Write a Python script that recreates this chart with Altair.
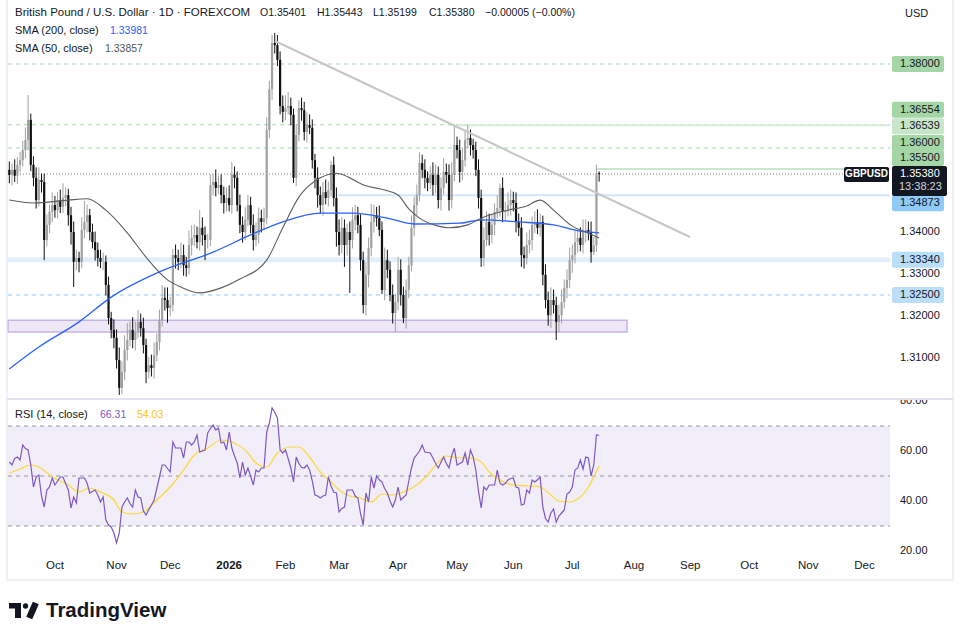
import altair as alt
import pandas as pd

# ---------------- data ----------------
# daily closes, GBP/USD (FOREXCOM), one value per trading day from 2025-09-08
closes = [
    1.3536, 1.3548, 1.3534, 1.3560, 1.3571, 1.3595, 1.3619, 1.3667, 1.3560, 1.3529,
    1.3476, 1.3524, 1.3519, 1.3381, 1.3417, 1.3448, 1.3464, 1.3452, 1.3476, 1.3460,
    1.3481, 1.3488, 1.3440, 1.3400, 1.3329, 1.3338, 1.3329, 1.3405, 1.3424, 1.3440,
    1.3400, 1.3376, 1.3357, 1.3338, 1.3329, 1.3329, 1.3274, 1.3195, 1.3167, 1.3148,
    1.3095, 1.3029, 1.3067, 1.3119, 1.3143, 1.3167, 1.3143, 1.3162, 1.3186, 1.3171,
    1.3131, 1.3067, 1.3083, 1.3076, 1.3107, 1.3138, 1.3190, 1.3243, 1.3238, 1.3219,
    1.3226, 1.3345, 1.3338, 1.3329, 1.3345, 1.3321, 1.3314, 1.3369, 1.3386, 1.3393,
    1.3376, 1.3410, 1.3393, 1.3381, 1.3381, 1.3512, 1.3519, 1.3505, 1.3512, 1.3488,
    1.3469, 1.3481, 1.3464, 1.3536, 1.3529, 1.3464, 1.3417, 1.3400, 1.3429, 1.3464,
    1.3417, 1.3381, 1.3393, 1.3433, 1.3424, 1.3433, 1.3643, 1.3740, 1.3850, 1.3845,
    1.3810, 1.3700, 1.3686, 1.3695, 1.3700, 1.3679, 1.3529, 1.3631, 1.3695, 1.3690,
    1.3638, 1.3655, 1.3648, 1.3571, 1.3529, 1.3488, 1.3464, 1.3495, 1.3481, 1.3500,
    1.3560, 1.3481, 1.3400, 1.3369, 1.3410, 1.3369, 1.3400, 1.3381, 1.3429, 1.3440,
    1.3417, 1.3333, 1.3226, 1.3298, 1.3362, 1.3424, 1.3440, 1.3433, 1.3405, 1.3262,
    1.3333, 1.3310, 1.3250, 1.3207, 1.3233, 1.3310, 1.3250, 1.3195, 1.3262, 1.3321,
    1.3410, 1.3464, 1.3488, 1.3564, 1.3548, 1.3529, 1.3517, 1.3536, 1.3512, 1.3536,
    1.3476, 1.3505, 1.3543, 1.3536, 1.3476, 1.3536, 1.3607, 1.3595, 1.3543, 1.3571,
    1.3619, 1.3624, 1.3607, 1.3595, 1.3548, 1.3481, 1.3338, 1.3381, 1.3424, 1.3393,
    1.3417, 1.3448, 1.3457, 1.3505, 1.3448, 1.3452, 1.3464, 1.3476, 1.3469, 1.3424,
    1.3410, 1.3345, 1.3338, 1.3369, 1.3381, 1.3417, 1.3424, 1.3410, 1.3424, 1.3298,
    1.3238, 1.3202, 1.3238, 1.3226, 1.3186, 1.3202, 1.3233, 1.3267, 1.3286, 1.3333,
    1.3345, 1.3376, 1.3386, 1.3369, 1.3400, 1.3405, 1.3400, 1.3352, 1.3368, 1.35401,
    1.35380,
]
first_open = 1.3548

# wick lengths above / below the candle body, in pips
upper_wick = [
    20, 15, 25, 18, 20, 22, 30, 59, 15, 20,
    25, 30, 15, 20, 25, 18, 30, 22, 20, 25,
    35, 18, 15, 20, 25, 20, 15, 30, 50, 25,
    15, 20, 25, 18, 20, 22, 15, 20, 15, 25,
    20, 30, 25, 35, 40, 20, 30, 25, 28, 20,
    25, 15, 20, 25, 30, 20, 25, 30, 25, 30,
    20, 15, 25, 20, 30, 25, 20, 35, 30, 25,
    20, 42, 25, 20, 15, 25, 20, 30, 22, 25,
    20, 25, 30, 31, 20, 15, 25, 20, 30, 25,
    20, 25, 30, 25, 20, 25, 30, 20, 19, 24,
    24, 20, 25, 30, 33, 20, 15, 25, 19, 25,
    20, 30, 25, 20, 15, 25, 20, 25, 30, 20,
    10, 20, 25, 30, 25, 20, 20, 25, 30, 25,
    20, 25, 20, 30, 25, 43, 25, 20, 30, 20,
    30, 25, 20, 25, 20, 30, 25, 20, 25, 20,
    30, 20, 25, 26, 20, 25, 15, 20, 30, 25,
    20, 25, 33, 20, 25, 30, 48, 20, 25, 30,
    25, 31, 20, 15, 20, 25, 20, 30, 25, 20,
    25, 20, 30, 10, 25, 20, 30, 25, 20, 25,
    20, 25, 20, 30, 25, 20, 25, 30, 20, 15,
    25, 20, 30, 25, 20, 25, 30, 20, 25, 30,
    25, 30, 20, 25, 30, 25, 20, 25, 20, 20,
    4,
]
lower_wick = [
    20, 25, 15, 20, 18, 15, 20, 25, 15, 20,
    20, 15, 25, 48, 15, 20, 25, 18, 20, 15,
    15, 20, 25, 30, 60, 20, 25, 15, 20, 25,
    20, 15, 25, 20, 15, 20, 25, 15, 20, 25,
    20, 17, 15, 20, 25, 15, 20, 25, 15, 20,
    20, 27, 15, 20, 25, 15, 20, 15, 25, 35,
    20, 15, 25, 20, 15, 25, 20, 15, 25, 20,
    15, 20, 25, 48, 20, 15, 25, 20, 15, 20,
    25, 20, 15, 20, 25, 15, 20, 25, 20, 15,
    20, 25, 15, 20, 25, 20, 15, 20, 25, 20,
    15, 20, 25, 20, 15, 25, 12, 20, 15, 25,
    20, 25, 15, 20, 25, 30, 20, 25, 15, 20,
    15, 20, 35, 25, 20, 52, 25, 126, 20, 25,
    20, 25, 20, 25, 30, 20, 25, 20, 15, 10,
    25, 20, 15, 25, 45, 20, 25, 12, 25, 20,
    15, 20, 25, 15, 20, 25, 20, 15, 25, 20,
    20, 25, 15, 20, 25, 20, 15, 20, 25, 20,
    15, 20, 25, 20, 15, 25, 21, 20, 15, 25,
    20, 25, 15, 20, 25, 20, 15, 25, 20, 25,
    20, 28, 25, 15, 20, 25, 20, 15, 20, 25,
    20, 25, 30, 20, 43, 25, 20, 15, 25, 20,
    30, 20, 25, 15, 20, 25, 20, 25, 7, 15,
    18,
]

# RSI(14) per bar
rsi = [
    55.6, 54.4, 57.0, 57.6, 56.4, 62.4, 61.0, 60.4, 54.4, 45.6,
    49.6, 50.4, 42.0, 37.6, 44.4, 45.6, 49.2, 46.4, 48.0, 49.6,
    49.6, 47.0, 44.4, 37.2, 41.6, 39.2, 49.2, 49.2, 49.2, 47.2,
    43.2, 43.8, 44.4, 42.4, 39.6, 41.6, 32.4, 30.4, 29.6, 27.2,
    23.2, 27.2, 37.6, 39.6, 41.2, 39.0, 37.6, 44.4, 41.6, 41.2,
    36.0, 34.4, 36.5, 38.4, 40.4, 45.0, 49.6, 54.4, 54.4, 53.0,
    51.6, 63.6, 61.2, 61.2, 61.2, 57.2, 63.6, 63.6, 62.4, 63.6,
    66.4, 59.6, 60.0, 60.4, 67.2, 69.0, 70.4, 68.4, 69.2, 63.2,
    63.6, 60.4, 67.6, 61.2, 58.0, 55.2, 49.2, 55.6, 50.4, 53.2,
    50.0, 46.4, 52.4, 51.6, 53.2, 53.2, 67.6, 71.2, 77.2, 75.5,
    73.2, 60.4, 59.2, 60.4, 57.0, 53.2, 47.6, 57.6, 55.0, 53.5,
    53.2, 54.4, 52.4, 48.0, 42.4, 42.0, 41.2, 42.0, 42.4, 49.6,
    46.0, 43.6, 43.2, 35.6, 37.0, 37.6, 44.4, 44.4, 44.4, 42.0,
    41.2, 35.0, 30.4, 43.2, 39.6, 49.6, 45.2, 50.0, 48.5, 47.6,
    45.0, 43.2, 40.0, 37.6, 40.4, 45.6, 40.4, 41.5, 42.4, 48.0,
    53.2, 57.2, 58.5, 60.0, 62.4, 59.6, 59.4, 59.2, 57.2, 55.0,
    53.2, 55.5, 57.6, 55.0, 53.2, 58.0, 61.2, 54.4, 55.0, 55.6,
    59.2, 54.4, 60.4, 57.6, 52.4, 44.0, 37.2, 45.6, 44.4, 46.4,
    46.4, 46.4, 52.4, 47.2, 46.4, 47.0, 48.4, 49.0, 49.2, 45.6,
    45.2, 38.4, 38.8, 44.4, 43.2, 48.4, 47.6, 48.5, 49.6, 37.6,
    33.0, 31.6, 35.2, 36.8, 31.6, 34.0, 35.2, 36.4, 42.8, 43.6,
    45.6, 52.4, 53.2, 56.4, 52.8, 57.6, 57.2, 50.0, 54.4, 66.4,
    66.31,
]

# RSI-based moving average (bar index, value)
rsi_ma_idx = [0, 4, 8, 11, 16, 22, 26, 30, 34, 39, 42, 46, 50, 55, 60, 65, 69, 74, 79, 83,
              89, 92, 96, 100, 105, 108, 112, 116, 120, 123, 127, 131, 135, 139, 143, 147, 152, 156, 160, 163,
              168, 172, 176, 179, 183, 188, 194, 198, 202, 205, 209, 212, 216, 218, 220]
rsi_ma_val = [51.2, 52.8, 54.4, 53.6, 49.6, 46.4, 43.6, 45.2, 43.6, 40.4, 35.6, 34.8, 35.6, 40.4, 45.6, 52.4, 58.4, 61.2, 64.4, 63.6,
              59.2, 55.2, 53.6, 59.2, 61.6, 61.6, 57.6, 51.6, 47.6, 44.4, 42.0, 41.2, 39.6, 42.8, 42.4, 43.6, 46.4, 50.4, 55.6, 58.0,
              57.2, 57.2, 55.6, 51.6, 48.4, 46.4, 46.0, 45.6, 42.4, 40.0, 39.6, 40.8, 45.6, 49.6, 54.03]

# simple moving averages (bar index, value)
sma200_idx = [0, 11, 26, 38, 56, 76, 90, 102, 116, 128, 141, 151, 168, 176, 190, 203, 213, 220]
sma200_val = [1.3074, 1.3126, 1.3186, 1.3245, 1.3305, 1.3352, 1.3393, 1.3424, 1.3445, 1.3445,
              1.3433, 1.3419, 1.3421, 1.3429, 1.3424, 1.3417, 1.3402, 1.33981]
sma50_idx = [0, 9, 22, 29, 36, 44, 51, 59, 64, 71, 79, 86, 96, 102, 108, 116, 122, 133, 140, 145,
             149, 153, 160, 164, 171, 176, 186, 193, 198, 203, 210, 215, 220]
sma50_val = [1.3476, 1.3469, 1.3476, 1.3479, 1.3452, 1.3398, 1.3340, 1.3286, 1.3269, 1.3255,
             1.3267, 1.3288, 1.3333, 1.3410, 1.3483, 1.3529, 1.3540, 1.3510, 1.3500, 1.3488,
             1.3455, 1.3433, 1.3414, 1.3410, 1.3417, 1.3433, 1.3452, 1.3462, 1.3476, 1.3452,
             1.3414, 1.3400, 1.33857]

# horizontal levels
level_dashed_green = [1.38000, 1.36554, 1.36000]
level_dashed_blue = [1.32500]
support_band = [1.3334]
zone_low, zone_high = 1.3162, 1.3190
zone_end_idx = 230.4
level_may_high = 1.36539      # drawn from the May high onwards
level_may_high_start = 167.0
level_break = 1.34873
level_break_start = 122.0
level_target = 1.35500
level_target_start = 219.0
last_close = 1.35380
trend_start = (99.1, 1.38548)
trend_end = (253.9, 1.33881)

holidays = ["2025-12-25", "2026-01-01"]
axis_ticks = [1.31, 1.32, 1.33, 1.34]
rsi_ticks = [80, 60, 40, 20]

# ---------------- frames ----------------
n = len(closes)
assert len(upper_wick) == n and len(lower_wick) == n and len(rsi) == n, (len(upper_wick), len(lower_wick), len(rsi), n)

days = pd.bdate_range("2025-09-08", "2026-12-31", freq="C", holidays=holidays)
opens = [first_open] + closes[:-1]
candles = pd.DataFrame({
    "idx": range(n),
    "date": [d.strftime("%Y-%m-%d") for d in days[:n]],
    "open": opens,
    "close": closes,
})
candles["high"] = [max(o, c) + w / 10000 for o, c, w in zip(opens, closes, upper_wick)]
candles["low"] = [min(o, c) - w / 10000 for o, c, w in zip(opens, closes, lower_wick)]
candles["dir"] = ["up" if c >= o else "down" for o, c in zip(opens, closes)]

rsi_df = pd.DataFrame({"idx": range(n), "rsi": rsi})
rsi_ma_df = pd.DataFrame({"idx": rsi_ma_idx, "v": rsi_ma_val})
sma200_df = pd.DataFrame({"idx": sma200_idx, "v": sma200_val})
sma50_df = pd.DataFrame({"idx": sma50_idx, "v": sma50_val})

# month ticks (first trading day of each month)
month_rows = []
seen = set()
for i, d in enumerate(days):
    key = (d.year, d.month)
    if key in seen:
        continue
    seen.add(key)
    if d >= pd.Timestamp("2025-10-01"):
        month_rows.append({"idx": i, "label": d.strftime("%Y") if d.month == 1 else d.strftime("%b"),
                           "year": d.month == 1})
months = pd.DataFrame(month_rows)

# ---------------- scales ----------------
FONT = "Liberation Sans"
INK = "#131722"
LEFT_IDX, RIGHT_IDX = -0.5, 328.5
X = alt.Scale(domain=[LEFT_IDX, RIGHT_IDX], range=[8, 890], nice=False, zero=False, padding=0)
PY = alt.Scale(domain=[1.300476, 1.395238], range=[398, 0], nice=False, zero=False)
RY = alt.Scale(domain=[20, 80], range=[551, 401], nice=False, zero=False)


def xq(field):
    return alt.X(field, type="quantitative", scale=X, axis=None)


def py(field):
    return alt.Y(field, type="quantitative", scale=PY, axis=None)


def ry(field):
    return alt.Y(field, type="quantitative", scale=RY, axis=None)


def hline(values, color, width=1, dash=None, start=LEFT_IDX, end=RIGHT_IDX, scale_fn=py):
    d = pd.DataFrame({"v": values, "a": start, "b": end})
    kw = dict(color=color, strokeWidth=width)
    if dash:
        kw["strokeDash"] = dash
    return alt.Chart(d).mark_rule(**kw).encode(x=xq("a"), x2="b:Q", y=scale_fn("v"))


def text(s, x, y, color=INK, size=11.5, weight="normal", align="left"):
    return alt.Chart(pd.DataFrame({"t": [s]})).mark_text(
        align=align, baseline="middle", font=FONT, fontSize=size, fontWeight=weight, color=color
    ).encode(x=alt.value(x), y=alt.value(y), text="t:N")


def price_tag(value, label, fill, ink=INK, shift=0):
    d = pd.DataFrame({"v": [value], "t": [label]})
    box = alt.Chart(d).mark_rect(fill=fill, yOffset=shift - 8, y2Offset=shift + 8, cornerRadius=2).encode(
        x=alt.value(892), x2=alt.value(944), y=py("v"), y2="v:Q")
    lab = alt.Chart(d).mark_text(align="left", baseline="middle", font=FONT, fontSize=11, color=ink, dy=shift).encode(
        x=alt.value(900), y=py("v"), text="t:N")
    return [box, lab]


def pixel_rect(x1, x2, y1, y2, color):
    return alt.Chart(pd.DataFrame({"a": [0]})).mark_rect(fill=color).encode(
        x=alt.value(x1), x2=alt.value(x2), y=alt.value(y1), y2=alt.value(y2))


def pixel_rule(x1, x2, y1, y2, color, width=1):
    return alt.Chart(pd.DataFrame({"a": [0]})).mark_rule(color=color, strokeWidth=width).encode(
        x=alt.value(x1), x2=alt.value(x2), y=alt.value(y1), y2=alt.value(y2))


# ---------------- price pane ----------------
zone = alt.Chart(pd.DataFrame({"a": [LEFT_IDX], "b": [zone_end_idx], "lo": [zone_low], "hi": [zone_high]})).mark_rect(
    fill="#ede7f6", stroke="#c5b3e6", strokeWidth=1.5).encode(x=xq("a"), x2="b:Q", y=py("lo"), y2="hi:Q")

trend = alt.Chart(pd.DataFrame({"idx": [trend_start[0], trend_end[0]], "v": [trend_start[1], trend_end[1]]})).mark_line(
    color="#c6c6c6", strokeWidth=2).encode(x=xq("idx"), y=py("v"))

sma200 = alt.Chart(sma200_df).mark_line(color="#2962ff", strokeWidth=1.3, interpolate="monotone").encode(x=xq("idx"), y=py("v"))
sma50 = alt.Chart(sma50_df).mark_line(color="#5d5d5d", strokeWidth=1.1, interpolate="monotone").encode(x=xq("idx"), y=py("v"))

candle_color = alt.Color("dir:N", scale=alt.Scale(domain=["up", "down"], range=["#a0a0a0", "#101010"]), legend=None)
wicks = alt.Chart(candles).mark_rule(strokeWidth=1).encode(x=xq("idx"), y=py("low"), y2="high:Q", color=candle_color)
bodies = alt.Chart(candles).mark_bar(size=2.2).encode(x=xq("idx"), y=py("open"), y2="close:Q", color=candle_color)

price_layers = [
    zone,
    hline(level_dashed_green, "#a5d6a7", 1, [4, 4]),
    hline(level_dashed_blue, "#90caf9", 1, [4, 4]),
    hline(support_band, "#e3eefb", 5),
    hline([level_may_high], "#d6eed7", 2, start=level_may_high_start),
    hline([level_break], "#d3e5fb", 2, start=level_break_start),
    hline([level_target], "#c8e6c9", 2, start=level_target_start),
    hline([last_close], "#787b86", 1, [1, 2]),
    wicks,
    bodies,
    sma200,
    sma50,
    trend,
]

# price scale labels
price_layers.append(
    alt.Chart(pd.DataFrame({"v": axis_ticks, "t": [f"{v:.5f}" for v in axis_ticks]})).mark_text(
        align="left", baseline="middle", font=FONT, fontSize=11, color=INK).encode(x=alt.value(900), y=py("v"), text="t:N")
)
price_layers += price_tag(1.38000, "1.38000", "#a5d6a7")
price_layers += price_tag(1.36554, "1.36554", "#a5d6a7", shift=-15)
price_layers += price_tag(1.36539, "1.36539", "#c8e6c9", shift=1)
price_layers += price_tag(1.36000, "1.36000", "#a5d6a7", shift=-5)
price_layers += price_tag(1.35500, "1.35500", "#a5d6a7", shift=-11)
price_layers += price_tag(level_break, "1.34873", "#90caf9", shift=8)
price_layers += price_tag(1.33340, "1.33340", "#bbdefb")
price_layers += price_tag(1.32500, "1.32500", "#bbdefb")

last_df = pd.DataFrame({"v": [last_close]})
price_layers += [
    alt.Chart(last_df).mark_rect(fill="#131722", yOffset=-8, y2Offset=22, cornerRadius=2).encode(
        x=alt.value(892), x2=alt.value(947), y=py("v"), y2="v:Q"),
    alt.Chart(last_df).mark_rect(fill="#131722", yOffset=-7, y2Offset=8, cornerRadius=2).encode(
        x=alt.value(844), x2=alt.value(889), y=py("v"), y2="v:Q"),
    alt.Chart(last_df.assign(t="1.35380")).mark_text(align="left", baseline="middle", font=FONT, fontSize=11,
                                                     color="white").encode(x=alt.value(900), y=py("v"), text="t:N"),
    alt.Chart(last_df.assign(t="13:38:23")).mark_text(align="left", baseline="middle", font=FONT, fontSize=11,
                                                      color="#d1d4dc", dy=13).encode(x=alt.value(899), y=py("v"), text="t:N"),
    alt.Chart(last_df.assign(t="GBPUSD")).mark_text(align="center", baseline="middle", font=FONT, fontSize=10,
                                                    fontWeight="bold", color="white").encode(x=alt.value(866.5), y=py("v"), text="t:N"),
]

# ---------------- RSI pane ----------------
band = alt.Chart(pd.DataFrame({"a": [LEFT_IDX], "b": [RIGHT_IDX], "lo": [30], "hi": [70]})).mark_rect(
    fill="#7e57c2", opacity=0.1).encode(x=xq("a"), x2="b:Q", y=ry("lo"), y2="hi:Q")
rsi_line = alt.Chart(rsi_df).mark_line(color="#7e57c2", strokeWidth=1.2).encode(x=xq("idx"), y=ry("rsi"))
rsi_ma = alt.Chart(rsi_ma_df).mark_line(color="#fdd835", strokeWidth=1.2, interpolate="monotone").encode(x=xq("idx"), y=ry("v"))
rsi_labels = alt.Chart(pd.DataFrame({"v": rsi_ticks, "t": [f"{v:.2f}" for v in rsi_ticks]})).mark_text(
    align="left", baseline="middle", font=FONT, fontSize=11, color=INK).encode(x=alt.value(900), y=ry("v"), text="t:N")

rsi_layers = [
    band,
    hline([70, 50, 30], "#9598a1", 1, [4, 4], scale_fn=ry),
    rsi_ma,
    rsi_line,
    rsi_labels,
]

# ---------------- frame, headers, time axis ----------------
month_plain = alt.Chart(months[~months["year"]]).mark_text(
    baseline="middle", font=FONT, fontSize=11.5, color=INK).encode(x=xq("idx"), y=alt.value(566), text="label:N")
month_year = alt.Chart(months[months["year"]]).mark_text(
    baseline="middle", font=FONT, fontSize=11.5, fontWeight="bold", color=INK).encode(x=xq("idx"), y=alt.value(566), text="label:N")

frame = [
    # half-hidden RSI scale labels at the pane edges
    pixel_rect(891, 952, 388, 399, "white"),
    pixel_rect(891, 952, 554, 560, "white"),
    pixel_rule(7, 953, 399, 399, "#e0e3eb", 2),
    pixel_rule(7, 7, 0, 580, "#e0e3eb"),
    pixel_rule(953, 953, 0, 580, "#e0e3eb"),
    pixel_rule(7, 953, 580, 580, "#e0e3eb"),
]

# TradingView mark
logo = [
    pixel_rect(9, 21, 603, 608.5, "#131722"),
    pixel_rect(15, 21, 603, 618, "#131722"),
    alt.Chart(pd.DataFrame({"a": [0]})).mark_point(filled=True, shape="circle", size=28, color="#131722", opacity=1).encode(
        x=alt.value(25.5), y=alt.value(606)),
    alt.Chart(pd.DataFrame({"px": [35.8, 29.2], "py": [603, 618]})).mark_line(
        color="#131722", strokeWidth=6.5, strokeCap="butt").encode(
        x=alt.X("px:Q", scale=None, axis=None), y=alt.Y("py:Q", scale=None, axis=None)),
]

headers = [
    text("British Pound / U.S. Dollar · 1D · FOREXCOM", 15, 13),
    text("O1.35401", 260, 13, size=10.5),
    text("H1.35443", 317, 13, size=10.5),
    text("L1.35199", 373, 13, size=10.5),
    text("C1.35380", 429, 13, size=10.5),
    text("−0.00005 (−0.00%)", 485, 13, size=10.5),
    text("SMA (200, close)", 15, 31, size=11),
    text("1.33981", 110, 31, color="#2962ff", size=10.5),
    text("SMA (50, close)", 15, 49, size=11),
    text("1.33857", 105, 49, color="#555555", size=10.5),
    text("RSI (14, close)", 15, 415, size=11),
    text("66.31", 100, 415, color="#7e57c2", size=10.5),
    text("54.03", 137, 415, color="#f5c518", size=10.5),
    text("USD", 905, 14, size=11),
    text("TradingView", 46, 611, size=20.5, weight="bold"),
]

chart = alt.layer(
    alt.layer(*price_layers),
    alt.layer(*rsi_layers),
    month_plain,
    month_year,
    *frame,
    *logo,
    *headers,
).resolve_scale(y="independent").properties(
    width=963, height=639, padding=0, autosize=alt.AutoSizeParams(type="none")
).configure_view(stroke=None)

chart.save("out.html", embed_options={"renderer": "svg", "actions": False})
